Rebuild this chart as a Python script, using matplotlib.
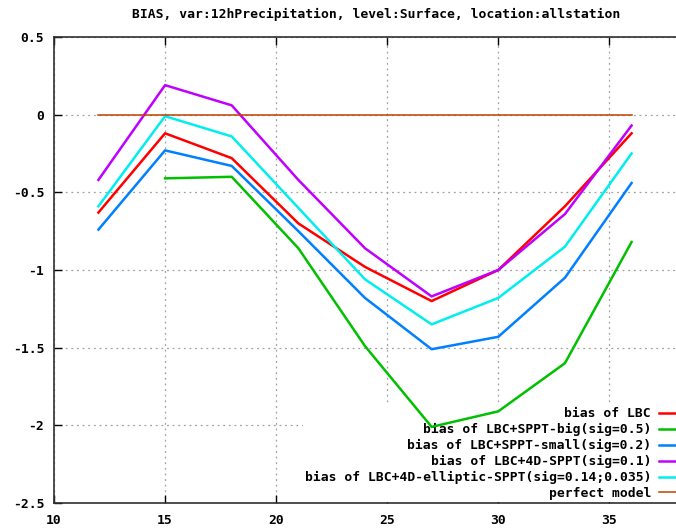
import numpy as np
import matplotlib
matplotlib.use("Agg")
from matplotlib import pyplot as plt

plt.rcParams['font.family'] = ['DejaVu Sans Mono']
plt.rcParams['font.weight'] = 'bold'
plt.rcParams['axes.unicode_minus'] = False

# forecast hours
hours = [12, 15, 18, 21, 24, 27, 30, 33, 36]

bias_lbc     = [-0.63, -0.12, -0.28, -0.70, -0.98, -1.20, -1.00, -0.59, -0.12]
bias_big     = [np.nan, -0.41, -0.40, -0.86, -1.49, -2.01, -1.91, -1.60, -0.82]
bias_small   = [-0.74, -0.23, -0.33, -0.75, -1.18, -1.51, -1.43, -1.05, -0.44]
bias_4d      = [-0.42, 0.19, 0.06, -0.42, -0.86, -1.17, -1.00, -0.64, -0.07]
bias_ellip   = [-0.59, -0.01, -0.14, -0.60, -1.06, -1.35, -1.18, -0.85, -0.25]
perfect      = [0, 0, 0, 0, 0, 0, 0, 0, 0]

labels = ['bias of LBC',
          'bias of LBC+SPPT-big(sig=0.5)',
          'bias of LBC+SPPT-small(sig=0.2)',
          'bias of LBC+4D-SPPT(sig=0.1)',
          'bias of LBC+4D-elliptic-SPPT(sig=0.14;0.035)',
          'perfect model']
colors = ['#ff0000', '#00c000', '#0080ff', '#c000ff', '#00eeee', '#c04000']

xticks = [10, 15, 20, 25, 30, 35]
yticks = [0.5, 0, -0.5, -1, -1.5, -2, -2.5]

fig = plt.figure(figsize=(6.76, 5.30), dpi=100)
ax = fig.add_axes([54/676, 1-503/530, 1-54/676, (503-37)/530])

series = [bias_lbc, bias_big, bias_small, bias_4d, bias_ellip]
for s, c, l in zip(series, colors[:5], labels[:5]):
    ax.plot(hours, s, color=c, lw=1.8, label=l, zorder=3)
ax.plot(hours, perfect, color=colors[5], lw=1.1, label=labels[5], zorder=3)

ax.set_xlim(10, 38)
ax.set_ylim(-2.5, 0.5)
ax.set_xticks(xticks)
ax.set_yticks(yticks)
ax.set_xticklabels([str(t) for t in xticks])
ax.set_yticklabels(['%g' % t for t in yticks])
ax.tick_params(direction='in', length=6, width=1, top=True, right=False,
               labelsize=9.4, colors='black')
ax.tick_params(axis='x', pad=8)
ax.tick_params(axis='y', pad=7)
ax.grid(True, color='#a0a0a0', linestyle=(0, (1.5, 3)), lw=0.9)
ax.spines['right'].set_visible(False)
for sp in ['left', 'bottom', 'top']:
    ax.spines[sp].set_linewidth(1.2)
    ax.spines[sp].set_color('#303030')

fig.text(376/676, 1-14/530, 'BIAS, var:12hPrecipitation, level:Surface, location:allstation',
         ha='center', va='center', fontsize=9.4)

# white key box sits above the grid but below the curves
leg = ax.legend(loc='lower right', bbox_to_anchor=(687/676, 1-502/530),
                bbox_transform=fig.transFigure, frameon=True, markerfirst=False,
                fontsize=9.4, handlelength=2.0, handletextpad=0.6,
                labelspacing=0.22, borderpad=0.15, borderaxespad=0, fancybox=False)
leg.get_frame().set_facecolor('white')
leg.get_frame().set_edgecolor('none')
leg.get_frame().set_alpha(1)
leg.set_zorder(2)

fig.savefig('out.png', dpi=100)
